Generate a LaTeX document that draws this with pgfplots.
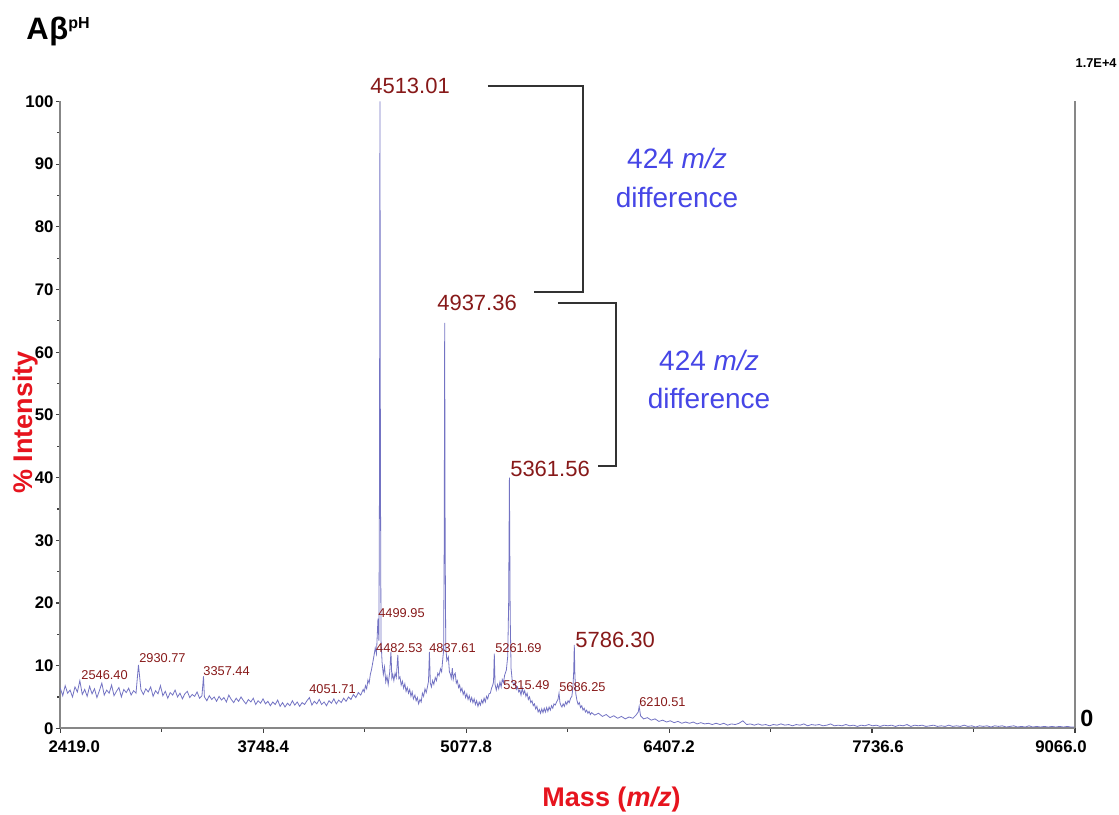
\documentclass[border=0pt]{standalone}
\usepackage{fontspec}
\setmainfont{Liberation Sans}
\usepackage{pgfplots}
\pgfplotsset{compat=1.18}
\definecolor{speccol}{RGB}{115,115,195}
\definecolor{peakred}{RGB}{135,25,25}
\definecolor{labred}{RGB}{230,20,30}
\definecolor{diffblue}{RGB}{70,70,230}
\definecolor{axcol}{RGB}{135,135,135}
\definecolor{brk}{RGB}{50,50,50}
\begin{document}
\begin{tikzpicture}
\useasboundingbox (0,0) rectangle (559.5pt,407pt);
\begin{axis}[
 at={(30.15pt,42.85pt)}, anchor=south west,
 scale only axis, width=507.35pt, height=313.4pt,
 xmin=2419, xmax=9066, ymin=0, ymax=100,
 axis x line*=bottom, axis y line*=left,
 axis line style={axcol, line width=0.9pt},
 tick style={black!75, line width=0.6pt},
 tick align=outside, major tick length=2.2pt, minor tick length=1.6pt,
 xtick={2419,3748.4,5077.8,6407.2,7736.6,9066},
 xticklabels={\hspace*{14pt}2419.0,3748.4,5077.8,6407.2,\hspace*{6pt}7736.6,9066.0\hspace*{14pt}},
 minor x tick num=1,
 ytick={0,10,...,100}, minor y tick num=1,
 /pgf/number format/assume math mode=true,
 ticklabel style={font=\bfseries\fontsize{8.4}{9}\selectfont},
 yticklabel style={inner xsep=1pt},
 xticklabel style={yshift=-0.5pt},
 clip=false,
]
\addplot[speccol, line width=0.4pt, mark=none] coordinates {
(2419,6.4)(2435,5.2)(2451,6.8)(2467,5.6)(2483,6.1)(2499,5.0)(2515,6.6)(2531,5.8)(2547,7.6)(2563,5.4)
(2579,6.2)(2595,5.1)(2611,6.7)(2627,5.5)(2643,6.3)(2659,4.9)(2675,6.0)(2691,7.2)(2707,5.3)(2723,6.1)
(2739,5.6)(2755,6.9)(2771,5.2)(2787,5.9)(2803,6.5)(2819,5.0)(2835,6.2)(2851,5.7)(2867,6.4)(2883,5.3)
(2899,6.0)(2915,5.6)(2931,10.1)(2947,6.2)(2963,5.4)(2979,6.3)(2995,5.8)(3011,6.6)(3027,5.1)(3043,6.0)
(3059,5.5)(3075,6.8)(3091,5.2)(3107,5.9)(3123,4.8)(3139,5.7)(3155,5.3)(3171,6.1)(3187,5.0)(3203,5.6)
(3219,4.7)(3235,5.5)(3251,5.9)(3267,4.9)(3283,5.4)(3299,5.1)(3315,5.8)(3331,4.8)(3347,5.2)(3357,8.3)
(3363,5.0)(3379,4.4)(3395,5.2)(3411,4.6)(3427,5.0)(3443,4.3)(3459,5.1)(3475,4.5)(3491,4.9)(3507,4.2)
(3523,5.3)(3539,4.6)(3555,4.1)(3571,4.8)(3587,4.3)(3603,5.0)(3619,4.4)(3635,3.9)(3651,4.6)(3667,4.2)
(3683,4.8)(3699,3.8)(3715,4.4)(3731,4.0)(3747,4.7)(3763,3.9)(3779,4.3)(3795,3.6)(3811,4.2)(3827,3.8)
(3843,4.5)(3859,3.5)(3875,4.1)(3891,3.4)(3907,4.0)(3923,3.6)(3939,4.4)(3955,3.7)(3971,4.2)(3987,3.5)
(4003,4.1)(4019,3.8)(4035,4.4)(4051,4.9)(4067,3.7)(4083,4.3)(4099,3.9)(4115,4.6)(4131,3.8)(4147,4.2)
(4163,3.6)(4179,4.4)(4195,4.0)(4211,4.7)(4227,3.9)(4243,4.5)(4259,4.1)(4275,4.8)(4291,4.3)(4307,5.0)
(4323,4.6)(4339,5.4)(4355,4.9)(4371,5.7)(4387,5.3)(4403,6.2)
(4410,5.8)(4418,6.8)(4426,6.3)(4434,7.7)(4442,7.2)(4450,8.6)(4458,9.4)(4466,10.5)(4474,11.6)(4482,12.8)
(4490,11.9)(4500,17.5)(4506,14.0)(4510,40)(4513,100)(4516,42)(4520,14)(4527,10.5)(4535,8.6)(4543,9.8)
(4551,7.4)(4559,8.3)(4567,7.0)(4577,9.0)(4585,12.2)(4591,8.0)(4597,8.6)(4604,7.6)(4612,8.8)(4620,8.1)
(4630,11.7)(4637,7.9)(4644,8.2)(4652,6.9)(4660,7.5)(4668,6.4)(4676,7.1)(4684,5.9)(4692,6.5)(4700,5.6)
(4708,6.2)(4716,5.1)(4724,5.8)(4732,4.7)(4742,5.3)(4750,4.4)(4758,4.9)(4766,3.9)(4775,4.6)(4783,4.2)
(4791,5.6)(4799,5.1)(4808,6.3)(4816,5.7)(4824,6.6)(4831,7.5)(4837,12.2)(4843,7.2)(4850,6.6)(4858,7.6)
(4866,7.0)(4875,8.1)(4883,7.6)(4892,8.8)(4900,8.4)(4909,9.5)(4917,9.0)(4925,11.2)(4930,12.4)(4934,30)
(4937,64.7)(4940,30)(4944,13.0)(4951,10.8)(4961,11.4)(4968,9.0)(4975,8.6)(4980,8.0)(4987,9.6)(4993,7.8)
(5000,8.6)(5006,8.8)(5013,7.2)(5020,7.6)(5028,6.5)(5035,6.9)(5042,5.9)(5050,6.4)(5058,5.4)(5066,5.9)
(5074,4.9)(5082,5.5)(5090,4.6)(5098,5.2)(5106,4.3)(5114,4.9)(5122,4.1)(5130,4.7)(5138,3.8)(5146,4.4)
(5155,3.5)(5163,4.2)(5171,3.7)(5179,4.5)(5187,4.0)(5195,4.8)(5203,4.2)(5211,5.1)(5219,4.7)(5227,5.5)
(5236,5.6)(5244,6.4)(5252,6.9)(5257,7.4)(5262,11.9)(5267,7.0)(5275,6.1)(5283,7.0)(5291,6.3)(5299,7.4)
(5307,6.6)(5314,7.8)(5322,7.3)(5330,8.5)(5341,9.3)(5350,11.5)(5356,20)(5361,40.0)(5366,18)(5372,9.5)
(5380,7.5)(5390,6.9)(5398,7.3)(5406,6.2)(5414,6.6)(5422,5.8)(5429,6.1)(5437,5.3)(5445,6.4)(5453,5.5)
(5461,6.0)(5469,5.1)(5477,5.6)(5485,4.6)(5493,5.0)(5501,4.1)(5509,4.4)(5517,3.6)(5525,3.9)(5533,3.1)
(5541,3.5)(5549,2.6)(5557,3.0)(5565,2.4)(5573,3.1)(5581,2.5)(5589,3.2)(5597,2.6)(5605,3.3)(5613,2.7)
(5621,3.4)(5629,2.9)(5637,3.6)(5645,3.2)(5653,3.9)(5661,3.7)(5672,4.3)(5679,4.6)(5686,5.6)(5692,4.1)
(5699,3.6)(5705,3.4)(5713,3.9)(5721,3.5)(5729,4.2)(5737,3.8)(5745,4.4)(5753,4.1)(5762,4.8)(5770,5.1)
(5777,6.5)(5782,9.0)(5786,13.3)(5790,8.5)(5796,5.5)(5803,4.5)(5811,3.8)(5819,4.1)(5827,3.3)(5835,3.6)
(5843,2.9)(5851,3.2)(5859,2.6)(5867,2.9)(5875,2.4)(5883,2.7)(5891,2.2)(5900,2.5)
(5920,2.1)(5945,2.4)(5970,1.9)(5995,2.2)(6020,1.7)(6045,2.0)(6070,1.6)(6095,1.9)(6120,1.5)(6145,1.8)
(6170,1.6)(6190,2.1)(6205,2.6)(6211,3.5)(6220,2.0)(6240,1.5)(6265,1.7)(6290,1.3)(6315,1.5)(6340,1.1)
(6365,1.3)(6390,1.0)(6415,1.2)(6440,0.9)(6465,1.1)(6490,0.8)(6515,1.0)(6540,0.8)(6565,1.0)(6590,0.7)
(6615,0.9)(6640,0.7)(6665,0.8)(6690,0.6)(6715,0.8)(6740,0.6)(6765,0.8)(6790,0.5)(6815,0.7)(6840,0.6)
(6865,0.8)(6890,1.2)(6915,0.6)(6940,0.7)(6965,0.5)(6990,0.7)(7015,0.5)(7040,0.6)(7065,0.4)(7090,0.6)
(7115,0.5)(7140,0.7)(7165,0.5)(7190,0.6)(7215,0.4)(7240,0.6)(7265,0.5)(7290,0.7)(7315,0.4)(7340,0.6)
(7365,0.5)(7390,0.6)(7415,0.4)(7440,0.5)(7465,0.7)(7490,0.4)(7515,0.5)(7540,0.4)(7565,0.6)(7590,0.4)
(7615,0.5)(7640,0.3)(7665,0.5)(7690,0.4)(7715,0.6)(7740,0.4)(7765,0.5)(7790,0.3)(7815,0.5)(7840,0.4)
(7865,0.5)(7890,0.3)(7915,0.5)(7940,0.4)(7965,0.6)(7990,0.3)(8015,0.5)(8040,0.4)(8065,0.5)(8090,0.3)
(8115,0.4)(8140,0.5)(8165,0.3)(8190,0.4)(8215,0.3)(8240,0.5)(8265,0.3)(8290,0.4)(8315,0.3)(8340,0.5)
(8365,0.3)(8390,0.4)(8415,0.2)(8440,0.4)(8465,0.3)(8490,0.4)(8515,0.2)(8540,0.4)(8565,0.3)(8590,0.4)
(8615,0.2)(8640,0.3)(8665,0.4)(8690,0.2)(8715,0.3)(8740,0.2)(8765,0.4)(8790,0.2)(8815,0.3)(8840,0.2)
(8865,0.3)(8890,0.2)(8915,0.3)(8940,0.2)(8965,0.3)(8990,0.2)(9015,0.3)(9040,0.2)(9066,0.2)
};
% right axis line
\draw[axcol, line width=0.9pt] (rel axis cs:1,0) -- (rel axis cs:1,1);
% large peak labels
\begin{scope}[every node/.style={anchor=west, inner sep=0pt, text=peakred, font=\fontsize{11}{11}\selectfont}]
\node at (axis cs:4447,102.5) {4513.01};
\node at (axis cs:4886,67.9) {4937.36};
\node at (axis cs:5364,41.4) {5361.56};
\node at (axis cs:5790,14.1) {5786.30};
\end{scope}
% small peak labels
\begin{scope}[every node/.style={anchor=west, inner sep=0pt, text=peakred, font=\fontsize{6.4}{6.4}\selectfont}]
\node at (axis cs:4500,18.4) {4499.95};
\node at (axis cs:4486,12.8) {4482.53};
\node at (axis cs:4834,12.8) {4837.61};
\node at (axis cs:5266,12.8) {5261.69};
\node at (axis cs:5318,6.9) {5315.49};
\node at (axis cs:5685,6.6) {5686.25};
\node at (axis cs:6209,4.2) {6210.51};
\node at (axis cs:2555,8.5) {2546.40};
\node at (axis cs:2934,11.2) {2930.77};
\node at (axis cs:3354,9.1) {3357.44};
\node at (axis cs:4048,6.3) {4051.71};
\end{scope}
% brackets
\draw[brk, line width=0.75pt] (axis cs:5220,102.5) -- (axis cs:5842,102.5) -- (axis cs:5842,69.6) -- (axis cs:5521,69.6);
\draw[brk, line width=0.75pt] (axis cs:5678,67.85) -- (axis cs:6058,67.85) -- (axis cs:6058,41.85) -- (axis cs:5940,41.85);
\end{axis}
% title
\node[anchor=base west, inner sep=0pt, font=\bfseries\fontsize{15.5}{15.5}\selectfont] at (13pt,387pt) {A\kern0.3ptβ\raisebox{5.6pt}{\fontsize{8}{8}\selectfont pH}};
% right scale labels
\node[anchor=east, inner sep=0pt, font=\bfseries\fontsize{6.4}{6.4}\selectfont] at (558.5pt,375.5pt) {1.7E+4};
\node[anchor=west, inner sep=0pt, font=\bfseries\fontsize{11.7}{11.7}\selectfont] at (540pt,48pt) {0};
% difference annotations
\begin{scope}[every node/.style={inner sep=0pt, text=diffblue, font=\fontsize{14}{14}\selectfont}]
\node at (338.5pt,328pt) {424 \textit{m/z}};
\node at (338.5pt,308.5pt) {difference};
\node at (354.5pt,227pt) {424 \textit{m/z}};
\node at (354.5pt,208pt) {difference};
\end{scope}
% axis labels
\node[rotate=90, inner sep=0pt, text=labred, font=\bfseries\fontsize{13.5}{13.5}\selectfont] at (13pt,195.75pt) {\% Intensity};
\node[inner sep=0pt, text=labred, font=\bfseries\fontsize{13.5}{13.5}\selectfont] at (305.75pt,7pt) {Mass (\textit{m/z})};
\end{tikzpicture}
\end{document}
